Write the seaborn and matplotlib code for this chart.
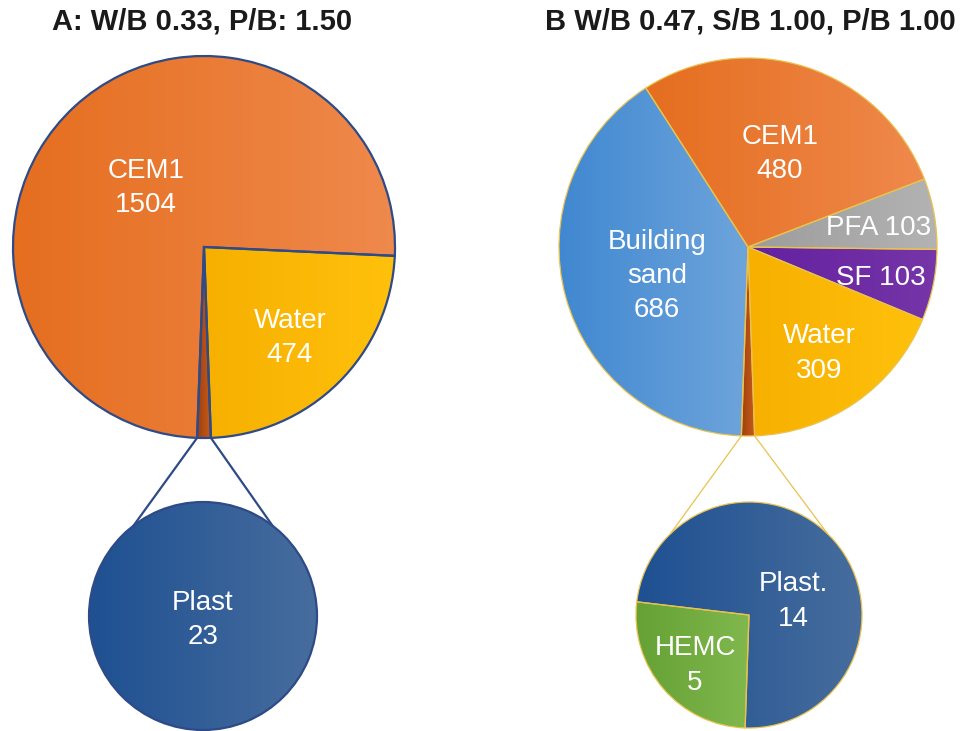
import numpy as np
import matplotlib
matplotlib.use("Agg")
import matplotlib.pyplot as plt
import seaborn as sns
from matplotlib.colors import LinearSegmentedColormap

# ---- Mix A: primary pie + exploded admixture pie ----
a_title = "A: W/B 0.33, P/B: 1.50"
a_names = ["Water", "CEM1"]
a_values = [474, 1504]
a_sub_names = ["Plast"]
a_sub_values = [23]

# ---- Mix B: primary pie + exploded admixture pie ----
b_title = "B W/B 0.47, S/B 1.00, P/B 1.00"
b_names = ["Water", "SF", "PFA", "CEM1", "Building\nsand"]
b_values = [309, 103, 103, 480, 686]
b_sub_names = ["HEMC", "Plast."]
b_sub_values = [5, 14]

# gradient colour pairs (left -> right) for each component
shades = {
    "CEM1": ("#E56E1F", "#EF894C"),
    "Water": ("#F7B000", "#FFC10C"),
    "other": ("#9E3F0E", "#C85C1B"),
    "Plast": ("#1E5092", "#476D9D"),
    "Plast.": ("#1E5092", "#476D9D"),
    "Building\nsand": ("#4088D1", "#6EA4DB"),
    "PFA": ("#9C9C9C", "#B3B3B3"),
    "SF": ("#6420A0", "#7635A8"),
    "HEMC": ("#65A135", "#80B84D"),
}

W, H = 962, 731
sns.set_theme(style="white")
plt.rcParams["font.family"] = ["Liberation Sans", "DejaVu Sans"]

fig = plt.figure(figsize=(W / 100, H / 100), dpi=100)
ax = fig.add_axes([0, 0, 1, 1])


def fill_gradient(wedge, c0, c1):
    x0, y0, x1, y1 = wedge.get_path().get_extents().extents
    cmap = LinearSegmentedColormap.from_list("g", [c0, c1])
    grad = np.linspace(0, 1, 256).reshape(1, -1)
    im = ax.imshow(grad, cmap=cmap, extent=(x0, x1, y0, y1), aspect="auto",
                   origin="lower", interpolation="bilinear", zorder=1.5)
    im.set_clip_path(wedge)
    wedge.set_facecolor("none")
    wedge.set_zorder(3)


def label(wedge, text, frac, dtheta=0.0, size=20, drop=4):
    ang = np.deg2rad((wedge.theta1 + wedge.theta2) / 2 + dtheta)
    cx, cy = wedge.center
    ax.text(cx + frac * wedge.r * np.cos(ang),
            cy + frac * wedge.r * np.sin(ang) - drop,
            text, ha="center", va="center", color="white", fontsize=size,
            linespacing=1.42, zorder=5)


def pie_of_pie(names, values, sub_names, sub_values, center, radius,
               sub_center, sub_radius, sub_start, edge, lw, conn_half,
               label_fracs, seps, sub_label_fracs, sub_dthetas):
    other = sum(sub_values)
    vals = [other] + list(values)
    keys = ["other"] + list(names)
    start = -90 - 360 * other / sum(vals) / 2
    pal = sns.color_palette([shades[k][0] for k in keys])
    wedges, _ = ax.pie(vals, colors=pal, startangle=start, center=center,
                       radius=radius, counterclock=True,
                       wedgeprops=dict(edgecolor=edge, linewidth=lw))
    for w, k in zip(wedges, keys):
        fill_gradient(w, *shades[k])
    for w, n, v, f, s in zip(wedges[1:], names, values, label_fracs, seps):
        label(w, f"{n}{s}{v}", f)

    sub_pal = sns.color_palette([shades[k][0] for k in sub_names])
    sub_wedges, _ = ax.pie(sub_values, colors=sub_pal, startangle=sub_start,
                           center=sub_center, radius=sub_radius, counterclock=True,
                           wedgeprops=dict(edgecolor=edge, linewidth=lw))
    for w, k in zip(sub_wedges, sub_names):
        fill_gradient(w, *shades[k])
    for w, n, v, f, d in zip(sub_wedges, sub_names, sub_values,
                             sub_label_fracs, sub_dthetas):
        label(w, f"{n}\n{v}", f, d)

    # connector lines from the small slice to the secondary pie
    small = wedges[0]
    for th, phi in ((small.theta1, 90 + conn_half), (small.theta2, 90 - conn_half)):
        p0 = (center[0] + radius * np.cos(np.deg2rad(th)),
              center[1] + radius * np.sin(np.deg2rad(th)))
        p1 = (sub_center[0] + sub_radius * np.cos(np.deg2rad(phi)),
              sub_center[1] + sub_radius * np.sin(np.deg2rad(phi)))
        ax.plot([p0[0], p1[0]], [p0[1], p1[1]], color=edge, lw=lw, zorder=2)


pie_of_pie(a_names, a_values, a_sub_names, a_sub_values,
           center=(204, H - 247), radius=191,
           sub_center=(203, H - 616), sub_radius=114, sub_start=90,
           edge="#2E4A87", lw=1.6, conn_half=37.5,
           label_fracs=[0.64, 0.45], seps=["\n", "\n"],
           sub_label_fracs=[0.0], sub_dthetas=[0])

pie_of_pie(b_names, b_values, b_sub_names, b_sub_values,
           center=(748, H - 247), radius=189,
           sub_center=(749, H - 615), sub_radius=113, sub_start=173.3,
           edge="#E9C24E", lw=0.9, conn_half=44,
           label_fracs=[0.66, 0.72, 0.70, 0.54, 0.50],
           seps=["\n", " ", " ", "\n", "\n"],
           sub_label_fracs=[0.63, 0.42], sub_dthetas=[0, -19])

ax.text(202, H - 21, a_title, ha="center", va="center", fontsize=21,
        fontweight="bold", color="#1a1a1a")
ax.text(750, H - 21, b_title, ha="center", va="center", fontsize=21,
        fontweight="bold", color="#1a1a1a")

ax.set_xlim(0, W)
ax.set_ylim(0, H)
ax.set_aspect("equal")
ax.axis("off")
fig.savefig("out.png", dpi=100, facecolor="white")
